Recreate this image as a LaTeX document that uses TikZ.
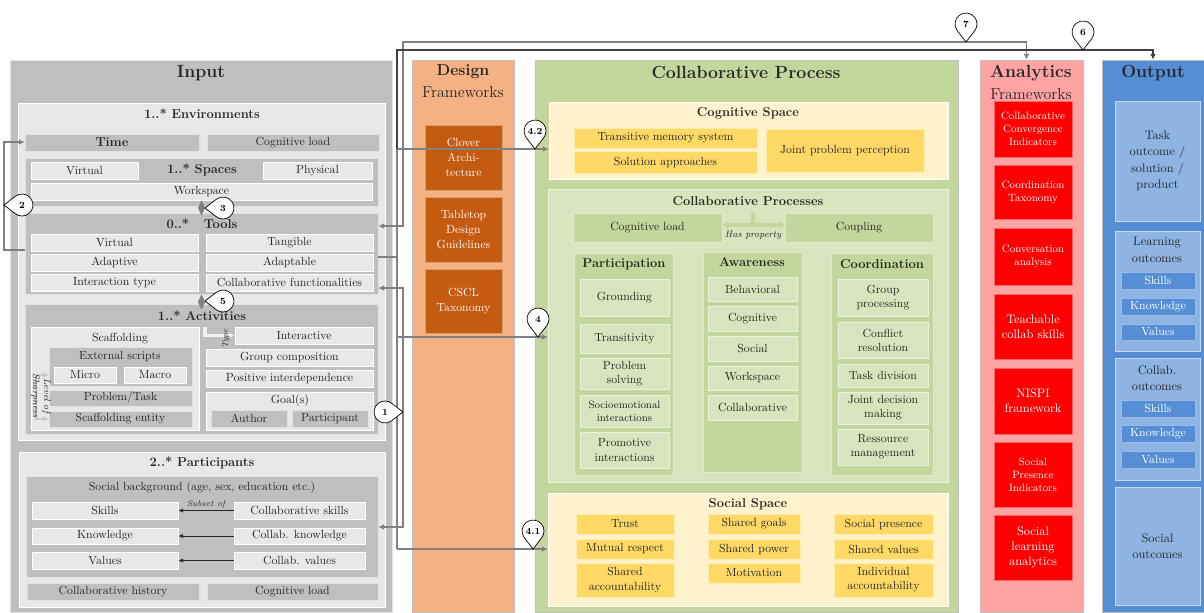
\documentclass[tikz,border=0pt]{standalone}
\usepackage{fontspec}
\usepackage{tikz}
\usetikzlibrary{calc,arrows.meta,positioning}
\usepackage{xcolor}

\definecolor{inGray}{HTML}{BFBFBF}
\definecolor{inLight}{HTML}{E8E8E8}
\definecolor{dsOrange}{HTML}{F4B183}
\definecolor{dsDark}{HTML}{C55A11}
\definecolor{cpGreen}{HTML}{C3D69B}
\definecolor{cpLight}{HTML}{D7E4BD}
\definecolor{spLight}{HTML}{FFF2CC}
\definecolor{spYellow}{HTML}{FFD966}
\definecolor{anPink}{HTML}{FFA3A3}
\definecolor{anRed}{HTML}{FF0000}
\definecolor{outBlue}{HTML}{558ED5}
\definecolor{outLight}{HTML}{8EB4E3}
\definecolor{connGray}{HTML}{808080}
\definecolor{connDark}{HTML}{404040}

% numbered tear-drop marks: name, tip, direction to the circle, label
\newcommand{\callmark}[4]{%
  \draw[markshape] (#2) -- ($(#2)+(#3:18)+(#3+232:11)$) arc[start angle=#3+232, end angle=#3+488, radius=11] -- cycle;
  \node[marklabel] (#1) at ($(#2)+(#3:18)$) {#4};}

\begin{document}
\begin{tikzpicture}[x=0.85pt,y=-0.85pt,
    >={Latex[length=5pt,width=5pt]},
    every node/.style={inner sep=0pt,align=center,text=black!85},
    corners/.style n args={4}{minimum width={(#3-#1)*0.85pt},minimum height={(#4-#2)*0.85pt},at={({(#1+#3)/2},{(#2+#4)/2})}},
    column/.style={draw=black!25,line width=0.5pt},
    gbox/.style={fill=inGray,draw=white!55!inGray,line width=0.5pt},
    lbox/.style={fill=inLight,draw=white,line width=0.5pt},
    dbox/.style={fill=dsDark,draw=white!40!dsDark,line width=0.5pt,text=white,font=\fontsize{10}{13}\selectfont},
    cbox/.style={fill=cpGreen,draw=white!50!cpGreen,line width=0.5pt},
    clbox/.style={fill=cpLight,draw=white!50!cpLight,line width=0.5pt},
    sbox/.style={fill=spLight,draw=white,line width=0.5pt},
    ybox/.style={fill=spYellow,draw=white!50!spYellow,line width=0.5pt},
    abox/.style={fill=anRed,draw=white!40!anRed,line width=0.5pt,text=white},
    obox/.style={fill=outLight,draw=white!50!outLight,line width=0.5pt},
    osub/.style={fill=outBlue,draw=white!40!outBlue,line width=0.5pt,text=white},
    coltitle/.style={font=\bfseries\fontsize{15}{18}\selectfont},
    subtitle/.style={font=\fontsize{13.5}{16}\selectfont},
    sectitle/.style={font=\bfseries\fontsize{11}{13}\selectfont},
    flow/.style={draw=connGray,line width=1.6pt},
    flowdark/.style={draw=connDark,line width=1.6pt},
    aggr/.style={draw=connGray,line width=0.4pt,-{Diamond[length=13pt,width=6pt,fill=connGray]}},
    lightline/.style={draw=white!80!inGray,line width=3pt},
    sharpline/.style={draw=inGray!85,line width=2.5pt},
    propline/.style={draw=cpGreen,line width=3.5pt},
    subarrow/.style={draw=black!85,line width=0.5pt,-{Latex[length=4pt,width=3.5pt]}},
    markshape/.style={draw=black,line width=0.6pt,fill=white},
    marklabel/.style={font=\bfseries\footnotesize,text=black}]

\useasboundingbox (0,0) rectangle (1204,612);

% Input
\node[column,gbox,corners={10}{60}{392}{612}] (input) {};
\node[coltitle] (inputtitle) at (201,73) {Input};

\node[lbox,corners={18}{103}{385}{440}] (env) {};
\node[sectitle] (envtitle) at (202,114) {1..* Environments};
\node[gbox,corners={25}{134}{199}{151},sectitle] (time) {Time};
\node[gbox,corners={207}{134}{379}{151}] (envload) {Cognitive load};

\node[gbox,corners={25}{158}{378}{206}] (spaces) {};
\node[lbox,corners={31}{162}{138}{179}] (spvirtual) {Virtual};
\node[sectitle] (spacestitle) at (202,170) {1..* Spaces};
\node[lbox,corners={263}{162}{372}{179}] (spphysical) {Physical};
\node[lbox,corners={31}{183}{372}{200}] (workspace) {Workspace};

\node[gbox,corners={25}{213}{378}{294}] (tools) {};
\node[sectitle] (toolstitle) at (202,224) {0..*~~~Tools};
\node[lbox,corners={31}{234}{198}{251}] (tlvirtual) {Virtual};
\node[lbox,corners={206}{234}{373}{251}] (tangible) {Tangible};
\node[lbox,corners={31}{254}{198}{271}] (adaptive) {Adaptive};
\node[lbox,corners={206}{254}{373}{271}] (adaptable) {Adaptable};
\node[lbox,corners={31}{274}{198}{291}] (interaction) {Interaction type};
\node[lbox,corners={206}{274}{373}{291}] (functionalities) {Collaborative functionalities};

\node[gbox,corners={25}{304}{378}{434}] (activities) {};
\node[sectitle] (activitiestitle) at (202,316) {1..* Activities};
\node[lbox,corners={31}{327}{199}{430}] (scaffolding) {};
\node (scaffoldingtitle) at (120,339) {Scaffolding};
\node[gbox,corners={49}{347}{192}{386}] (extscripts) {};
\node (extscriptstitle) at (120,357) {External scripts};
\node[lbox,corners={54}{367}{116}{383}] (micro) {Micro};
\node[lbox,corners={124}{367}{186}{383}] (macro) {Macro};
\node[gbox,corners={49}{390}{192}{406}] (problem) {Problem/Task};
\node[gbox,corners={49}{411}{192}{427}] (scafentity) {Scaffolding entity};
\node[lbox,corners={235}{327}{373}{344}] (interactive) {Interactive};
\node[lbox,corners={206}{349}{373}{366}] (groupcomp) {Group composition};
\node[lbox,corners={206}{370}{373}{387}] (posinter) {Positive interdependence};
\node[lbox,corners={206}{392}{373}{430}] (goals) {};
\node (goalstitle) at (290,401) {Goal(s)};
\node[gbox,corners={211}{410}{287}{427}] (author) {Author};
\node[gbox,corners={292}{410}{368}{427}] (participant) {Participant};

\coordinate (typetop) at (205,327);
\draw[lightline,->] (typetop) |- (interactive.west);
\node[font=\scriptsize\itshape,rotate=90] (typetext) at (226,339) {Type};
\coordinate (sharpbend) at (36,375);
\draw[sharpline,<->] (extscripts.west |- micro.west) -- (sharpbend) |- (scafentity.west);
\node[font=\footnotesize\itshape,rotate=-90] (sharptext) at (41,396) {Level of\\Sharpness};

\draw[aggr] (tools.north) -- (workspace.south);
\draw[aggr] (activities.north) -- (tools.south);

\node[lbox,corners={19}{452}{385}{607}] (partenv) {};
\node[sectitle] (parttitle) at (202,463) {2..* Participants};
\node[gbox,corners={26}{476}{378}{577}] (socialbg) {};
\node (socialbgtitle) at (202,488) {Social background (age, sex, education etc.)};
\node[lbox,corners={32}{502}{178}{519}] (skills) {Skills};
\node[lbox,corners={234}{502}{365}{519}] (collskills) {Collaborative skills};
\node[lbox,corners={32}{528}{178}{544}] (knowledge) {Knowledge};
\node[lbox,corners={234}{528}{365}{544}] (collknow) {Collab. knowledge};
\node[lbox,corners={32}{552}{178}{569}] (values) {Values};
\node[lbox,corners={234}{552}{365}{569}] (collvalues) {Collab. values};
\node[gbox,corners={27}{583}{199}{600}] (collhistory) {Collaborative history};
\node[gbox,corners={207}{583}{378}{600}] (partload) {Cognitive load};

\draw[subarrow] (collskills.west) -- (skills.east) node[midway,above=1.5pt,font=\scriptsize\itshape] (subsettext) {Subset of};
\draw[subarrow] (collknow.west) -- (knowledge.east);
\draw[subarrow] (collvalues.west) -- (values.east);

% Design frameworks
\node[column,fill=dsOrange,corners={412}{60}{514}{612}] (design) {};
\node[font=\bfseries\fontsize{13.5}{16}\selectfont] (designtitle) at (463,72) {Design};
\node[subtitle] (designsub) at (463,92) {Frameworks};
\node[dbox,corners={425}{125}{502}{190}] (clover) {Clover\\Archi-\\tecture};
\node[dbox,corners={425}{197}{502}{262}] (tabletop) {Tabletop\\Design\\Guidelines};
\node[dbox,corners={425}{269}{502}{333}] (cscl) {CSCL\\Taxonomy};

% Collaborative process
\node[column,fill=cpGreen,corners={535}{60}{958}{612}] (collab) {};
\node[coltitle] (collabtitle) at (746,72) {Collaborative Process};

\node[sbox,corners={549}{102}{948}{179}] (cogspace) {};
\node[sectitle] (cogspacetitle) at (748,113) {Cognitive Space};
\node[ybox,corners={574}{128}{757}{148}] (transitive) {Transitive memory system};
\node[ybox,corners={574}{151}{757}{173}] (solution) {Solution approaches};
\node[ybox,corners={766}{129}{924}{172}] (jointperc) {Joint problem perception};

\node[clbox,corners={548}{189}{948}{482}] (collproc) {};
\node[sectitle] (collproctitle) at (748,201) {Collaborative Processes};
\node[cbox,corners={573}{213}{722}{242}] (cpload) {Cognitive load};
\node[cbox,corners={785}{213}{933}{242}] (coupling) {Coupling};
\coordinate (hptop) at (753,213);
\coordinate (hpmid) at (753,225);
\draw[propline] (hptop) -- (hpmid);
\draw[propline,{Latex[length=5pt,width=7pt]}-{Latex[length=5pt,width=7pt]}] (cpload.east |- hpmid) -- (coupling.west |- hpmid);
\node[font=\footnotesize\itshape] (hastext) at (753,235) {Has property};

\node[cbox,corners={574}{253}{673}{475}] (participation) {};
\node[sectitle] (participationtitle) at (624,264) {Participation};
\node[clbox,corners={580}{279}{669}{316}] (grounding) {Grounding};
\node[clbox,corners={580}{324}{669}{353}] (transitivity) {Transitivity};
\node[clbox,corners={580}{358}{669}{389}] (probsolving) {Problem\\solving};
\node[clbox,corners={580}{395}{669}{427},font=\small] (socioemo) {Socioemotional\\interactions};
\node[clbox,corners={580}{432}{669}{468}] (promotive) {Promotive\\interactions};

\node[cbox,corners={703}{252}{802}{472}] (awareness) {};
\node[sectitle] (awarenesstitle) at (752,262) {Awareness};
\node[clbox,corners={708}{277}{797}{301}] (behavioral) {Behavioral};
\node[clbox,corners={708}{306}{797}{331}] (awcognitive) {Cognitive};
\node[clbox,corners={708}{336}{797}{361}] (awsocial) {Social};
\node[clbox,corners={708}{366}{797}{390}] (awworkspace) {Workspace};
\node[clbox,corners={708}{395}{797}{420}] (awcollab) {Collaborative};

\node[cbox,corners={831}{253}{933}{475}] (coordination) {};
\node[sectitle] (coordinationtitle) at (882,264) {Coordination};
\node[clbox,corners={838}{279}{928}{316}] (groupproc) {Group\\processing};
\node[clbox,corners={838}{322}{928}{358}] (conflict) {Conflict\\resolution};
\node[clbox,corners={838}{364}{928}{387}] (taskdiv) {Task division};
\node[clbox,corners={838}{392}{928}{424}] (jointdec) {Joint decision\\making};
\node[clbox,corners={838}{429}{928}{465}] (ressource) {Ressource\\management};

\node[sbox,corners={548}{493}{948}{606}] (socspace) {};
\node[sectitle] (socspacetitle) at (748,504) {Social Space};
\node[ybox,corners={576}{514}{674}{534}] (trust) {Trust};
\node[ybox,corners={576}{539}{674}{559}] (mutual) {Mutual respect};
\node[ybox,corners={576}{563}{674}{597}] (sharedacc) {Shared\\accountability};
\node[ybox,corners={708}{514}{800}{534}] (sharedgoals) {Shared goals};
\node[ybox,corners={708}{539}{800}{559}] (sharedpower) {Shared power};
\node[ybox,corners={708}{563}{800}{583}] (motivation) {Motivation};
\node[ybox,corners={834}{514}{933}{534}] (socpresence) {Social presence};
\node[ybox,corners={834}{539}{933}{559}] (sharedvalues) {Shared values};
\node[ybox,corners={834}{563}{933}{597}] (indivacc) {Individual\\accountability};

% Analytics frameworks
\node[column,fill=anPink,corners={980}{60}{1083}{612}] (analytics) {};
\node[coltitle] (analyticstitle) at (1031,73) {Analytics};
\node[subtitle] (analyticssub) at (1031,94) {Frameworks};
\node[abox,corners={994}{101}{1072}{157},font=\small] (cci) {Collaborative\\Convergence\\Indicators};
\node[abox,corners={994}{165}{1072}{219},font=\small] (ctax) {Coordination\\Taxonomy};
\node[abox,corners={994}{228}{1072}{285},font=\small] (conva) {Conversation\\analysis};
\node[abox,corners={994}{294}{1072}{359},font=\fontsize{10.5}{12.5}\selectfont] (teach) {Teachable\\collab skills};
\node[abox,corners={994}{368}{1072}{434},font=\fontsize{10.5}{12.5}\selectfont] (nispi) {NISPI\\framework};
\node[abox,corners={994}{442}{1072}{507},font=\small] (spi) {Social\\Presence\\Indicators};
\node[abox,corners={994}{515}{1072}{580},font=\fontsize{10.5}{12.5}\selectfont] (sla) {Social\\learning\\analytics};

% Output
\node[column,fill=outBlue,corners={1102}{60}{1204}{612}] (output) {};
\node[coltitle] (outputtitle) at (1153,73) {Output};
\node[obox,corners={1115}{101}{1200}{221},font=\fontsize{10.5}{14}\selectfont] (taskout) {Task\\outcome /\\solution /\\product};
\node[obox,corners={1115}{231}{1200}{351}] (learnout) {};
\node[font=\fontsize{10.5}{14}\selectfont] (learnouttitle) at (1157,250) {Learning\\outcomes};
\node[osub,corners={1121}{272}{1195}{289}] (lskills) {Skills};
\node[osub,corners={1121}{298}{1195}{315}] (lknow) {Knowledge};
\node[osub,corners={1121}{324}{1195}{340}] (lvalues) {Values};
\node[obox,corners={1115}{358}{1200}{480}] (collout) {};
\node[font=\fontsize{10.5}{14}\selectfont] (collouttitle) at (1157,378) {Collab.\\outcomes};
\node[osub,corners={1121}{400}{1195}{417}] (cskills) {Skills};
\node[osub,corners={1121}{425}{1195}{442}] (cknow) {Knowledge};
\node[osub,corners={1121}{451}{1195}{468}] (cvalues) {Values};
\node[obox,corners={1115}{487}{1200}{605},font=\fontsize{10.5}{14}\selectfont] (socout) {Social\\outcomes};

% connectors
\coordinate (k7) at (403,226);
\coordinate (t7) at (403,42);
\draw[flow,<->] (tools.east |- k7) -- (k7) -- (t7) -| ([xshift=-4.25pt]analytics.north);

\coordinate (k6) at (397,149);
\coordinate (t6) at (397,50);
\coordinate (kt) at (397,257);
\coordinate (k4) at (397,337);
\coordinate (k41) at (397,549);
\draw[flow] (k6) -- (k41);
\draw[flow] (tools.east |- kt) -- (kt);
\draw[flow,->] (k6) -- (k6 -| cogspace.west);
\draw[flow,->] (k4) -- (k4 -| collproc.west);
\draw[flow,->] (k41) -- (k41 -| socspace.west);
\draw[flowdark,->] (k6) -- (t6) -| (output.north);

\coordinate (k1a) at (403,288);
\coordinate (k1b) at (403,527);
\draw[flow,<->] (tools.east |- k1a) -- (k1a) -- (k1b) -- (socialbg.east |- k1b);

\coordinate (k2a) at (4,250);
\coordinate (k2b) at (4,142);
\draw[flow,->] (tools.west |- k2a) -- (k2a) -- (k2b) -- (time.west |- k2b);

\callmark{mark7}{966,42}{-90}{7}
\callmark{mark6}{1083,50}{-90}{6}
\callmark{mark42}{535,149}{-90}{4.2}
\callmark{mark4}{538,337}{-90}{4}
\callmark{mark41}{533,549}{-90}{4.1}
\callmark{mark1}{403,412}{180}{1}
\callmark{mark2}{4,205}{0}{2}
\callmark{mark3}{205,208}{0}{3}
\callmark{mark5}{205,301}{0}{5}

\end{tikzpicture}
\end{document}
